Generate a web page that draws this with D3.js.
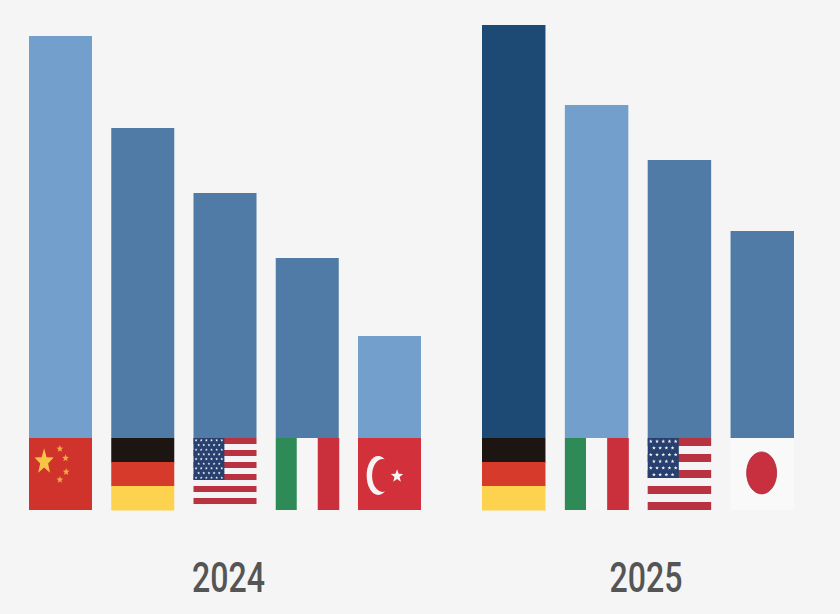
<!DOCTYPE html>
<html>
<head>
<meta charset="utf-8">
<script src="https://cdn.jsdelivr.net/npm/d3@7"></script>
<style>
  html, body { margin: 0; padding: 0; background: #f5f5f5; }
  svg { display: block; }
</style>
</head>
<body>
<svg id="chart" width="840" height="614"></svg>
<script>
"use strict";
// Values (no axis in the picture, so relative units)
const countries2024 = ['China', 'Germany', 'USA', 'Italy', 'Turkey'];
const values2024 = [402, 310, 245, 180, 102];
const shades2024 = ['light', 'mid', 'mid', 'mid', 'light'];

const countries2025 = ['Germany', 'Italy', 'USA', 'Japan'];
const values2025 = [413, 333, 278, 207];
const shades2025 = ['dark', 'light', 'mid', 'mid'];

const shadeColors = { light: '#729fcb', mid: '#4f7ba6', dark: '#1c4a74' };

const svg = d3.select('#chart');
const baseline = 438;
const flagHeight = 72;

const yScale = d3.scaleLinear().domain([0, 413]).range([baseline, 25]);

const groups = [
    { year: '2024', names: countries2024, values: values2024, shades: shades2024, range: [29, 421], labelX: 228.5 },
    { year: '2025', names: countries2025, values: values2025, shades: shades2025, range: [482, 794], labelX: 646 }
];

// 5-point star centred on cx, cy; the flags in the picture are stretched so rx and ry differ
function starPath(cx, cy, rx, ry) {
    const pts = d3.range(10).map(i => {
        const a = -Math.PI / 2 + i * Math.PI / 5;
        const k = i % 2 ? 0.42 : 1;
        return [cx + k * rx * Math.cos(a), cy + k * ry * Math.sin(a)];
    });
    return d3.line()(pts) + 'Z';
}

function addStar(g, cx, cy, rx, ry, fill) {
    g.append('path').attr('d', starPath(cx, cy, rx, ry)).attr('fill', fill);
}

function addRect(g, x, y, w, h, fill) {
    g.append('rect').attr('x', x).attr('y', y).attr('width', w).attr('height', h).attr('fill', fill);
}

const flagPainters = {
    China(g, w, h) {
        addRect(g, 0, 0, w, h, '#d0332b');
        addStar(g, 0.24 * w, 0.33 * h, 10, 13.5, '#f8c447');
        [[0.49, 0.15], [0.58, 0.28], [0.59, 0.47], [0.49, 0.58]].forEach(s => {
            addStar(g, s[0] * w, s[1] * h, 3.6, 3.8, '#f3a94a');
        });
    },
    Germany(g, w, h) {
        ['#1c1512', '#d63a2a', '#fdd24f'].forEach((c, i) => addRect(g, 0, i * h / 3, w, h / 3 + 0.5, c));
    },
    Italy(g, w, h) {
        ['#2e8b57', '#f6f6f6', '#c9303c'].forEach((c, i) => addRect(g, i * w / 3, 0, w / 3 + 0.5, h, c));
    },
    Turkey(g, w, h) {
        addRect(g, 0, 0, w, h, '#d2303a');
        g.append('ellipse').attr('cx', 0.32 * w).attr('cy', 0.52 * h).attr('rx', 11.5).attr('ry', 19.5).attr('fill', '#f8f4f4');
        g.append('ellipse').attr('cx', 0.39 * w).attr('cy', 0.52 * h).attr('rx', 10.5).attr('ry', 16.5).attr('fill', '#d2303a');
        addStar(g, 0.62 * w, 0.53 * h, 6.5, 7, '#f8f4f4');
    },
    Japan(g, w, h) {
        addRect(g, 0, 0, w, h, '#f9f9f9');
        g.append('ellipse').attr('cx', 0.49 * w).attr('cy', 0.485 * h).attr('rx', 15).attr('ry', 21)
            .attr('fill', '#c8303f').attr('stroke', '#a92a3a').attr('stroke-width', 0.8);
    }
};

// The two American flags are not the same drawing in the picture
function paintUSA(g, w, h, stripes, cantonH, rows, cols, starR) {
    addRect(g, 0, 0, w, h, '#f5f3f5');
    d3.range(0, stripes, 2).forEach(i => addRect(g, 0, i * h / stripes, w, h / stripes, '#b8323f'));
    addRect(g, 0, 0, 0.49 * w, cantonH, '#27406f');
    d3.range(rows).forEach(r => {
        const offset = r % 2 ? 0.5 : 0;
        d3.range(cols - (r % 2)).forEach(c => {
            addStar(g, (c + offset + 0.5) / cols * 0.49 * w, (r + 0.5) / rows * cantonH, starR, starR, '#f5f5f5');
        });
    });
}

groups.forEach(group => {
    const xScale = d3.scaleBand().domain(group.names).range(group.range).paddingInner(0.234);
    const valueOf = new Map(group.names.map((n, i) => [n, group.values[i]]));
    const shadeOf = new Map(group.names.map((n, i) => [n, group.shades[i]]));

    const layer = svg.append('g').attr('class', 'year-' + group.year);

    layer.selectAll('rect.bar')
        .data(group.names)
        .enter()
        .append('rect')
        .attr('class', 'bar')
        .attr('x', d => xScale(d))
        .attr('y', d => yScale(valueOf.get(d)))
        .attr('width', xScale.bandwidth())
        .attr('height', d => baseline - yScale(valueOf.get(d)))
        .attr('fill', d => shadeColors[shadeOf.get(d)]);

    layer.selectAll('g.flag')
        .data(group.names)
        .enter()
        .append('g')
        .attr('class', 'flag')
        .attr('transform', d => `translate(${xScale(d)},${baseline})`)
        .each(function(d) {
            const g = d3.select(this);
            const w = xScale.bandwidth();
            if (d === 'USA') {
                if (group.year === '2024') paintUSA(g, w, flagHeight, 12, 42, 9, 6, 1.5);
                else paintUSA(g, w, flagHeight, 9, 40, 6, 5, 2);
            } else {
                flagPainters[d](g, w, flagHeight);
            }
        });

    // No narrow font is installed, so squeeze Roboto to the label's width
    layer.append('text')
        .attr('x', group.labelX)
        .attr('y', 592)
        .attr('text-anchor', 'middle')
        .attr('font-family', 'Roboto, sans-serif')
        .attr('font-weight', 500)
        .attr('font-size', 42)
        .attr('textLength', 73)
        .attr('lengthAdjust', 'spacingAndGlyphs')
        .attr('fill', '#555555')
        .text(group.year);
});
</script>
</body>
</html>
